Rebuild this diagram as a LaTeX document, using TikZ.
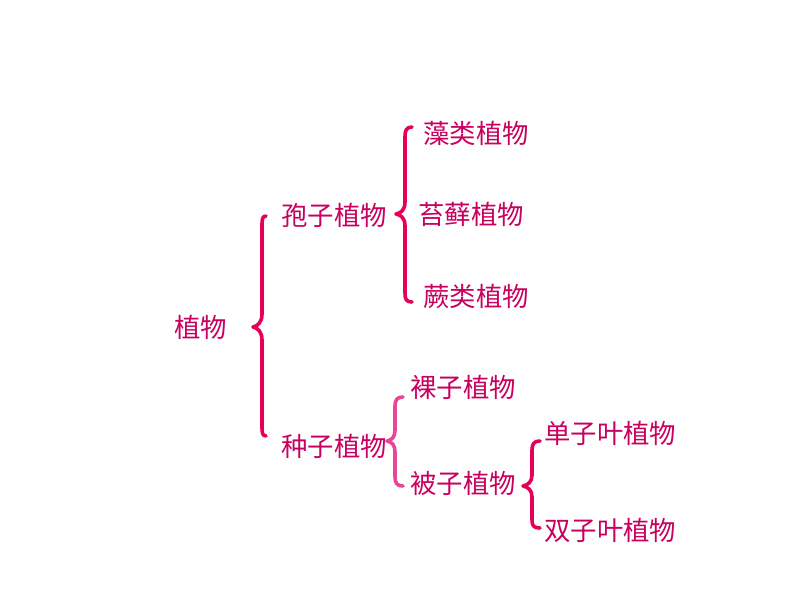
\documentclass[tikz,border=0pt]{standalone}
\usepackage{fontspec}
\setmainfont{Noto Sans CJK SC}
\definecolor{txt}{RGB}{200,0,95}
\definecolor{brc}{RGB}{230,0,90}
\definecolor{brl}{RGB}{232,70,150}
\begin{document}
\begin{tikzpicture}[x=1pt,y=-1pt,
  lbl/.style={text=txt,font=\fontsize{26.4}{30}\selectfont,inner sep=0pt,anchor=west},
  brace/.style={draw=brc,line width=3.6pt,line cap=round,line join=round}]
\useasboundingbox (0,0) rectangle (794,596);
\node[lbl] (zw) at (174,327) {植物};
\node[lbl] (bz) at (281,215) {孢子植物};
\node[lbl] (zz) at (281,446) {种子植物};
\node[lbl] (zl) at (423,133) {藻类植物};
\node[lbl] (tx) at (418,214) {苔藓植物};
\node[lbl] (jl) at (423,296) {蕨类植物};
\node[lbl] (lz) at (410,387) {裸子植物};
\node[lbl] (bei) at (410,483) {被子植物};
\node[lbl] (dan) at (544,433) {单子叶植物};
\node[lbl] (shuang) at (544,530) {双子叶植物};
% brace 1
\draw[brace] (266,216) .. controls (262,216) and (262,220) .. (262,226)
  -- (262,314) .. controls (262,322) and (258,326) .. (253,327)
  .. controls (258,328) and (262,332) .. (262,340)
  -- (262,426) .. controls (262,432) and (262,436) .. (266,436);
% brace 2
\draw[brace] (412,127) .. controls (406,127) and (405,131) .. (405,137)
  -- (405,202) .. controls (405,210) and (401,213) .. (396,214)
  .. controls (401,215) and (405,218) .. (405,226)
  -- (405,293) .. controls (405,299) and (406,302) .. (412,302);
% brace 3
\draw[brace,draw=brl] (403,397) .. controls (397,397) and (395,400) .. (395,406)
  -- (395,430) .. controls (395,437) and (392,440) .. (387,441)
  .. controls (392,442) and (395,445) .. (395,452)
  -- (395,477) .. controls (395,483) and (397,486) .. (403,486);
% brace 4
\draw[brace] (540,441) .. controls (534,441) and (532,444) .. (532,450)
  -- (532,475) .. controls (532,482) and (528,485) .. (523,486)
  .. controls (528,487) and (532,490) .. (532,497)
  -- (532,520) .. controls (532,526) and (534,528) .. (540,528);
\end{tikzpicture}
\end{document}
